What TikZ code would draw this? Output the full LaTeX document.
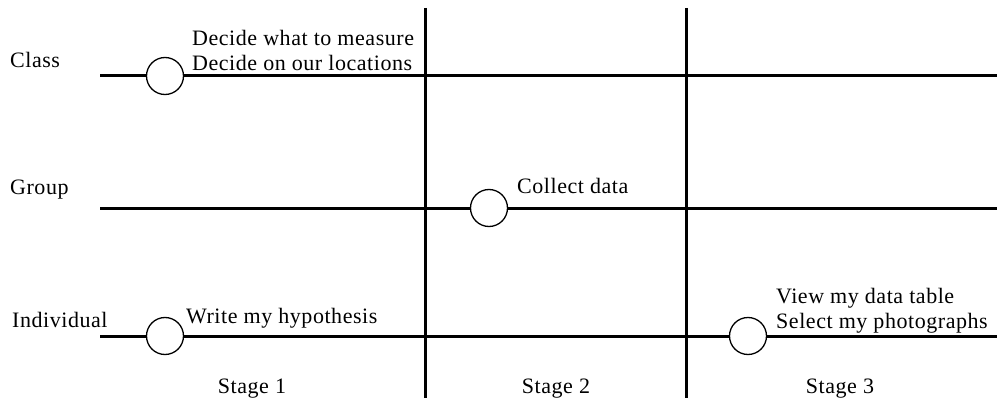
\documentclass[tikz,border=0pt]{standalone}
\usepackage{fontspec}
\setmainfont[LetterSpace=2.5]{Liberation Serif}
\usetikzlibrary{positioning}

\begin{document}
\begin{tikzpicture}[x=1pt,y=-1pt]

\tikzset{event/.style = {shape=circle,draw,line width=1.3pt,fill=white,minimum size=37pt,inner sep=0pt}}
\tikzset{track/.style = {line width=3pt}}
\tikzset{txt/.style = {anchor=west,inner sep=0pt,align=left,font=\fontsize{22}{25}\selectfont}}
\tikzset{stagetxt/.style = {inner sep=0pt,font=\fontsize{22}{25}\selectfont}}

\useasboundingbox (0,0) rectangle (997,404);

% ends of the tracks
\coordinate (classL) at (100,76);
\coordinate (classR) at (997,76);
\coordinate (groupL) at (100,208);
\coordinate (groupR) at (997,208);
\coordinate (indL) at (100,336);
\coordinate (indR) at (997,336);
\coordinate (s1top) at (425,8);
\coordinate (s1bot) at (425,398);
\coordinate (s2top) at (686,8);
\coordinate (s2bot) at (686,398);

% stage dividers
\draw[track] (s1top) -- (s1bot);
\draw[track] (s2top) -- (s2bot);

% events
\node[event] (decide) at (165,76) {};
\node[event] (collect) at (489,208) {};
\node[event] (hypo) at (165,336) {};
\node[event] (view) at (748,336) {};

% tracks
\draw[track] (classL) -- (decide) -- (classR);
\draw[track] (groupL) -- (collect) -- (groupR);
\draw[track] (indL) -- (hypo) -- (view) -- (indR);

% row names
\node[txt] (classtxt) at (10,60) {Class};
\node[txt] (grouptxt) at (10,190) {Group};
\node[txt] (indtxt) at (12,320) {Individual};

% event texts
\node[txt] (decidetxt) at (192,50) {Decide what to measure\\Decide on our locations};
\node[txt] (collecttxt) at (517,186) {Collect data};
\node[txt] (hypotxt) at (186,318) {Write my hypothesis};
\node[txt] (viewtxt) at (776,311) {View my data table\\Select my photographs};

% stages
\node[stagetxt] (st1) at (252,389) {Stage 1};
\node[stagetxt] (st2) at (556,389) {Stage 2};
\node[stagetxt] (st3) at (840,389) {Stage 3};

\end{tikzpicture}
\end{document}
